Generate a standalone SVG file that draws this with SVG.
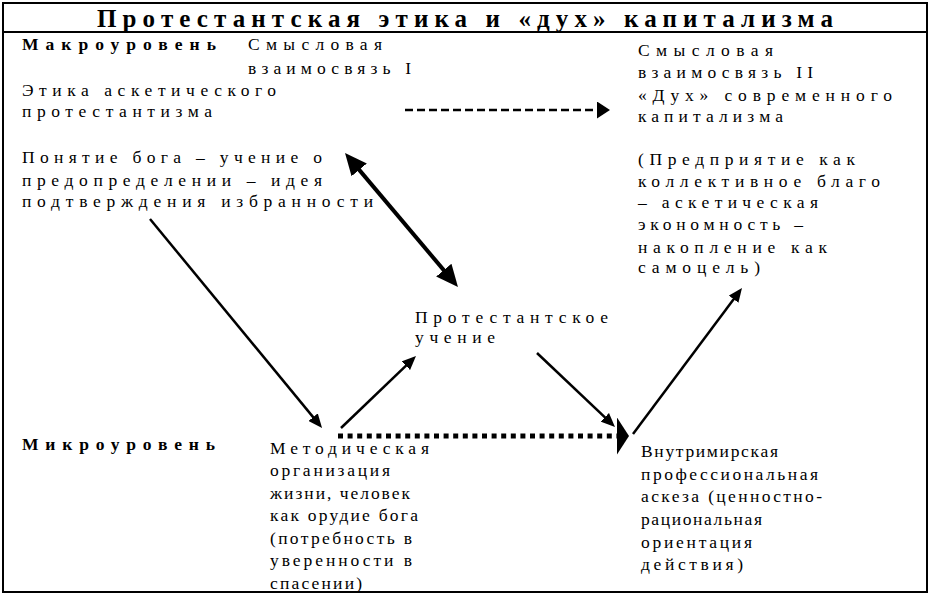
<svg xmlns="http://www.w3.org/2000/svg" width="930" height="596" viewBox="0 0 930 596">
<style>
text{font-family:"Liberation Serif","Times New Roman",serif;font-size:17.5px;fill:#000}
.b{font-weight:bold}
.t{font-weight:bold;font-size:25px}
.ln{stroke:#000;stroke-width:2.5;fill:none}
.frame{fill:#fff;stroke:#000;stroke-width:2}
</style>
<defs>
<marker id="ah" markerUnits="userSpaceOnUse" markerWidth="14" markerHeight="12" refX="10" refY="6" orient="auto"><path d="M0,0 L14,6 L0,12 z" fill="#000"/></marker>
<marker id="ahb" markerUnits="userSpaceOnUse" markerWidth="22" markerHeight="20" refX="16" refY="10" orient="auto-start-reverse"><path d="M0,0 L22,10 L0,20 z" fill="#000"/></marker>
<marker id="ahd" markerUnits="userSpaceOnUse" markerWidth="13" markerHeight="17" refX="0" refY="8.5" orient="auto"><path d="M0,0 L13,8.5 L0,17 z" fill="#000"/></marker>
<marker id="aht" markerUnits="userSpaceOnUse" markerWidth="12" markerHeight="37" refX="0" refY="18.5" orient="auto"><path d="M0,0 L12,18.5 L0,37 z" fill="#000"/></marker>
</defs>
<rect x="0" y="0" width="930" height="596" fill="#fff"/>
<rect class="frame" x="3" y="3" width="924" height="589"/>
<line x1="3" y1="32" x2="927" y2="32" stroke="#000" stroke-width="2"/>
<g id="title"><text class="t" x="97" y="27" textLength="736" lengthAdjust="spacing">Протестантская этика и «дух» капитализма</text></g>
<g id="macro-label"><text class="b" x="22" y="50" textLength="194" lengthAdjust="spacing">Макроуровень</text></g>
<g id="meaning-link-1">
<text x="248" y="50" textLength="134" lengthAdjust="spacing">Смысловая</text>
<text x="248" y="74" textLength="163" lengthAdjust="spacing">взаимосвязь I</text>
</g>
<g id="ethics">
<text x="22" y="96" textLength="254" lengthAdjust="spacing">Этика аскетического</text>
<text x="22" y="117" textLength="190" lengthAdjust="spacing">протестантизма</text>
</g>
<g id="god-concept">
<text x="22" y="163" textLength="300" lengthAdjust="spacing">Понятие бога – учение о</text>
<text x="22" y="186" textLength="300" lengthAdjust="spacing">предопределении – идея</text>
<text x="22" y="207" textLength="351" lengthAdjust="spacing">подтверждения избранности</text>
</g>
<g id="meaning-link-2">
<text x="638" y="56" textLength="135" lengthAdjust="spacing">Смысловая</text>
<text x="638" y="78" textLength="175" lengthAdjust="spacing">взаимосвязь II</text>
</g>
<g id="spirit">
<text x="638" y="101" textLength="254" lengthAdjust="spacing">«Дух» современного</text>
<text x="638" y="122" textLength="145" lengthAdjust="spacing">капитализма</text>
</g>
<g id="enterprise">
<text x="638" y="165" textLength="217" lengthAdjust="spacing">(Предприятие как</text>
<text x="638" y="187" textLength="242" lengthAdjust="spacing">коллективное благо</text>
<text x="638" y="208" textLength="180" lengthAdjust="spacing">– аскетическая</text>
<text x="638" y="230" textLength="165" lengthAdjust="spacing">экономность –</text>
<text x="638" y="253" textLength="189" lengthAdjust="spacing">накопление как</text>
<text x="638" y="273" textLength="122" lengthAdjust="spacing">самоцель)</text>
</g>
<g id="protestant-teaching">
<text x="415" y="323" textLength="193" lengthAdjust="spacing">Протестантское</text>
<text x="415" y="343" textLength="80" lengthAdjust="spacing">учение</text>
</g>
<g id="micro-label"><text class="b" x="22" y="450" textLength="193" lengthAdjust="spacing">Микроуровень</text></g>
<g id="methodical">
<text x="270" y="454" textLength="159" lengthAdjust="spacing">Методическая</text>
<text x="270" y="476" textLength="120" lengthAdjust="spacing">организация</text>
<text x="270" y="499" textLength="140" lengthAdjust="spacing">жизни, человек</text>
<text x="270" y="521" textLength="148" lengthAdjust="spacing">как орудие бога</text>
<text x="270" y="544" textLength="142" lengthAdjust="spacing">(потребность в</text>
<text x="270" y="566" textLength="142" lengthAdjust="spacing">уверенности в</text>
<text x="270" y="589" textLength="92" lengthAdjust="spacing">спасении)</text>
</g>
<g id="inner-worldly">
<text x="641" y="457" textLength="137" lengthAdjust="spacing">Внутримирская</text>
<text x="641" y="480" textLength="177" lengthAdjust="spacing">профессиональная</text>
<text x="641" y="502" textLength="181" lengthAdjust="spacing">аскеза (ценностно-</text>
<text x="641" y="525" textLength="121" lengthAdjust="spacing">рациональная</text>
<text x="641" y="548" textLength="111" lengthAdjust="spacing">ориентация</text>
<text x="641" y="570" textLength="102" lengthAdjust="spacing">действия)</text>
</g>
<g id="connectors">
<line class="ln" x1="405" y1="110" x2="597" y2="110" stroke-dasharray="8 4" marker-end="url(#ahd)"/>
<line x1="348.9" y1="157.6" x2="454.1" y2="282.4" stroke="#000" stroke-width="4" marker-start="url(#ahb)" marker-end="url(#ahb)"/>
<line class="ln" x1="150" y1="219" x2="319.5" y2="424.9" marker-end="url(#ah)"/>
<line class="ln" x1="341" y1="428" x2="413.1" y2="358.8" marker-end="url(#ah)"/>
<line class="ln" x1="537" y1="353" x2="612.1" y2="424.2" marker-end="url(#ah)"/>
<line x1="338" y1="436" x2="617" y2="436" stroke="#000" stroke-width="5" stroke-dasharray="5 4.6" marker-end="url(#aht)"/>
<line class="ln" x1="633" y1="434" x2="739.6" y2="291.2" marker-end="url(#ah)"/>
</g>
</svg>
